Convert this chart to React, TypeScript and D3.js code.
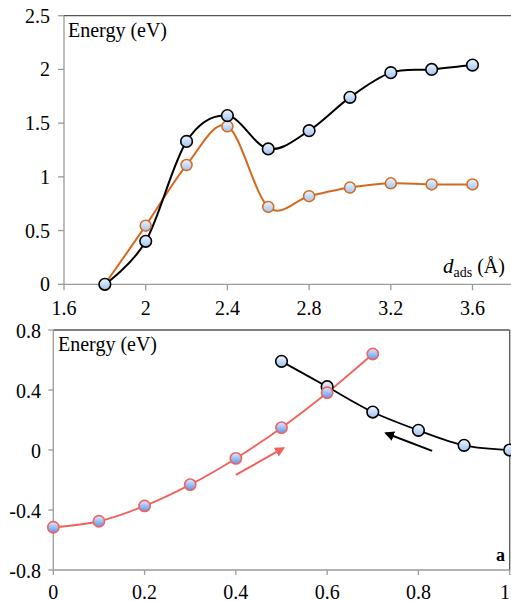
import React from "react";
import * as d3 from "d3";

// ---- Top panel data ----
const topX = [1.8, 2.0, 2.2, 2.4, 2.6, 2.8, 3.0, 3.2, 3.4, 3.6];
const topBlack = [0, 0.4, 1.33, 1.57, 1.26, 1.43, 1.74, 1.97, 2.0, 2.04];
const topOrange = [0, 0.546, 1.11, 1.47, 0.72, 0.82, 0.9, 0.94, 0.93, 0.93];
const topXTicks = [1.6, 2, 2.4, 2.8, 3.2, 3.6];
const topXTickLabels = ["1.6", "2", "2.4", "2.8", "3.2", "3.6"];
const topYTicks = [0, 0.5, 1, 1.5, 2, 2.5];
const topYTickLabels = ["0", "0.5", "1", "1.5", "2", "2.5"];

// ---- Bottom panel data ----
const botRedX = [0, 0.1, 0.2, 0.3, 0.4, 0.5, 0.6, 0.7];
const botRed = [-0.515, -0.475, -0.373, -0.231, -0.056, 0.149, 0.382, 0.64];
const botBlackX = [0.5, 0.6, 0.7, 0.8, 0.9, 1.0];
const botBlack = [0.591, 0.422, 0.253, 0.131, 0.031, 0.0];
const botXTicks = [0, 0.2, 0.4, 0.6, 0.8, 1];
const botXTickLabels = ["0", "0.2", "0.4", "0.6", "0.8", "1"];
const botYTicks = [-0.8, -0.4, 0, 0.4, 0.8];
const botYTickLabels = ["-0.8", "-0.4", "0", "0.4", "0.8"];
// arrows in data coordinates [x1,y1,x2,y2]
const redArrow = [0.4, -0.166, 0.504, 0.012];
const blackArrow = [0.83, -0.006, 0.729, 0.112];

const FONT = "'Liberation Serif', 'DejaVu Serif', serif";
const fs = { fontFamily: FONT };
const FS = 20;

export default function App() {
  // top scales
  const tx = d3.scaleLinear().domain([1.6, 4.0]).range([64, 554.2]);
  const ty = d3.scaleLinear().domain([0, 2.5]).range([284.3, 15.7]);
  // bottom scales
  const bx = d3.scaleLinear().domain([0, 1]).range([53.3, 509.7]);
  const by = d3.scaleLinear().domain([-0.8, 0.8]).range([570, 330]);

  const curve = d3.curveCatmullRom.alpha(0);
  const topLine = d3
    .line<[number, number]>()
    .x((d) => tx(d[0]))
    .y((d) => ty(d[1]))
    .curve(curve);
  const botLine = d3
    .line<[number, number]>()
    .x((d) => bx(d[0]))
    .y((d) => by(d[1]))
    .curve(curve);

  const tBlack = topX.map((x, i) => [x, topBlack[i]] as [number, number]);
  const tOrange = topX.map((x, i) => [x, topOrange[i]] as [number, number]);
  const bRed = botRedX.map((x, i) => [x, botRed[i]] as [number, number]);
  const bBlack = botBlackX.map((x, i) => [x, botBlack[i]] as [number, number]);

  const axisColor = "#9a9a9a";
  const frameColor = "#555";
  const orange = "#d2691e";
  const red = "#f0625c";

  const arrow = (a: number[], color: string, id: string) => (
    <line
      x1={bx(a[0])}
      y1={by(a[1])}
      x2={bx(a[2])}
      y2={by(a[3])}
      stroke={color}
      strokeWidth={2}
      markerEnd={`url(#${id})`}
    />
  );

  return (
    <svg
      width={511}
      height={602}
      style={{ position: "absolute", left: 0, top: 0, background: "#fff", fontFamily: FONT }}
    >
      <defs>
        <linearGradient id="gLight" x1="0" y1="0" x2="0" y2="1">
          <stop offset="0%" stopColor="#eef5ff" />
          <stop offset="100%" stopColor="#9fc2ee" />
        </linearGradient>
        <linearGradient id="gBlue" x1="0" y1="0" x2="0" y2="1">
          <stop offset="0%" stopColor="#dfeaff" />
          <stop offset="100%" stopColor="#5b95f0" />
        </linearGradient>
        <marker id="arrRed" viewBox="0 0 10 10" refX="8" refY="5" markerWidth="5" markerHeight="5" orient="auto">
          <path d="M0,0 L10,5 L0,10 z" fill={red} />
        </marker>
        <marker id="arrBlack" viewBox="0 0 10 10" refX="8" refY="5" markerWidth="5" markerHeight="5" orient="auto">
          <path d="M0,0 L10,5 L0,10 z" fill="#000" />
        </marker>
      </defs>

      {/* ================= TOP PANEL ================= */}
      <g>
        <line x1={tx(1.6)} y1={ty(2.5)} x2={511} y2={ty(2.5)} stroke={frameColor} strokeWidth={1.3} />
        <line x1={tx(1.6)} y1={ty(2.5)} x2={tx(1.6)} y2={ty(0)} stroke={axisColor} strokeWidth={1.3} />
        <line x1={tx(1.6)} y1={ty(0)} x2={511} y2={ty(0)} stroke={axisColor} strokeWidth={1.3} />
        {topYTicks.map((t, i) => (
          <g key={"ty" + i}>
            <line x1={tx(1.6) - 6} x2={tx(1.6)} y1={ty(t)} y2={ty(t)} stroke={axisColor} strokeWidth={1.3} />
            <text x={50} y={ty(t) + 7} textAnchor="end" fontSize={FS} fill="#000" style={fs}>
              {topYTickLabels[i]}
            </text>
          </g>
        ))}
        {topXTicks.map((t, i) => (
          <g key={"tx" + i}>
            <line x1={tx(t)} x2={tx(t)} y1={ty(0)} y2={ty(0) + 6} stroke={axisColor} strokeWidth={1.3} />
            <text x={tx(t)} y={315} textAnchor="middle" fontSize={FS} fill="#000" style={fs}>
              {topXTickLabels[i]}
            </text>
          </g>
        ))}
        <text x={68} y={36.5} fontSize={FS} fill="#000" style={fs}>
          Energy (eV)
        </text>
        <text x={443} y={273} fontSize={FS} fill="#000" style={fs}>
          <tspan fontStyle="italic" fontSize={21}>d</tspan>
          <tspan fontSize={14} dy={4}>ads</tspan>
          <tspan dy={-4}> (Å)</tspan>
        </text>

        <path d={topLine(tOrange) || ""} fill="none" stroke={orange} strokeWidth={2} />
        <path d={topLine(tBlack) || ""} fill="none" stroke="#000" strokeWidth={2} />
        {tOrange.map((d, i) => (
          <circle key={"to" + i} cx={tx(d[0])} cy={ty(d[1])} r={5.5} fill="url(#gLight)" stroke={orange} strokeWidth={1.5} />
        ))}
        {tBlack.map((d, i) => (
          <circle key={"tb" + i} cx={tx(d[0])} cy={ty(d[1])} r={5.8} fill="url(#gLight)" stroke="#000" strokeWidth={1.6} />
        ))}
      </g>

      {/* ================= BOTTOM PANEL ================= */}
      <g>
        <line x1={bx(0)} y1={by(0.8)} x2={bx(1)} y2={by(0.8)} stroke={frameColor} strokeWidth={1.3} />
        <line x1={bx(1)} y1={by(0.8)} x2={bx(1)} y2={by(-0.8)} stroke={frameColor} strokeWidth={1.3} />
        <line x1={bx(0)} y1={by(0.8)} x2={bx(0)} y2={by(-0.8)} stroke={axisColor} strokeWidth={1.3} />
        <line x1={bx(0)} y1={by(-0.8)} x2={bx(1)} y2={by(-0.8)} stroke={axisColor} strokeWidth={1.3} />
        {botYTicks.map((t, i) => (
          <g key={"by" + i}>
            <line x1={bx(0) - 5} x2={bx(0)} y1={by(t)} y2={by(t)} stroke={axisColor} strokeWidth={1.3} />
            <text x={41} y={by(t) + 7.5} textAnchor="end" fontSize={FS} fill="#000" style={fs}>
              {botYTickLabels[i]}
            </text>
          </g>
        ))}
        {botXTicks.map((t, i) => (
          <g key={"bx" + i}>
            <line x1={bx(t)} x2={bx(t)} y1={by(-0.8)} y2={by(-0.8) + 5} stroke={axisColor} strokeWidth={1.3} />
            <text x={Math.min(bx(t), 505)} y={599} textAnchor="middle" fontSize={FS} fill="#000" style={fs}>
              {botXTickLabels[i]}
            </text>
          </g>
        ))}
        <text x={58} y={350.5} fontSize={FS} fill="#000" style={fs}>
          Energy (eV)
        </text>
        <text x={496} y={561} fontSize={18} fontWeight="bold" fill="#000" style={fs}>
          a
        </text>

        {arrow(redArrow, red, "arrRed")}
        {arrow(blackArrow, "#000", "arrBlack")}

        <path d={botLine(bBlack) || ""} fill="none" stroke="#000" strokeWidth={1.8} />
        <path d={botLine(bRed) || ""} fill="none" stroke={red} strokeWidth={1.8} />
        {bBlack.map((d, i) => (
          <circle key={"bb" + i} cx={bx(d[0])} cy={by(d[1])} r={5.8} fill="url(#gLight)" stroke="#000" strokeWidth={1.6} />
        ))}
        {bRed.map((d, i) => (
          <circle key={"br" + i} cx={bx(d[0])} cy={by(d[1])} r={5.6} fill="url(#gBlue)" stroke={red} strokeWidth={1.6} />
        ))}
      </g>
    </svg>
  );
}
